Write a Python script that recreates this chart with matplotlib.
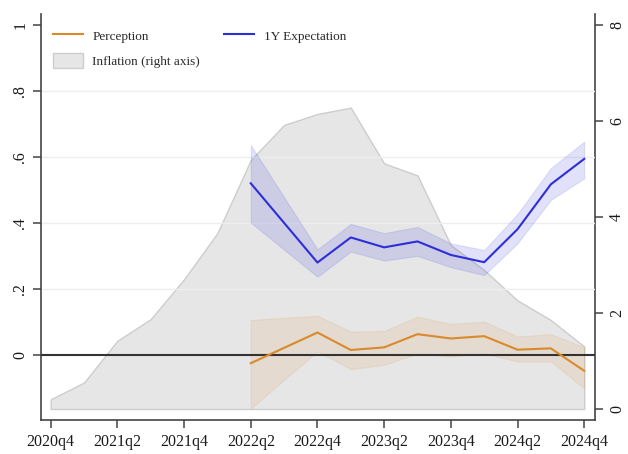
import matplotlib
matplotlib.use("Agg")
import matplotlib.pyplot as plt
from matplotlib.patches import Patch
from matplotlib.lines import Line2D
import numpy as np

plt.rcParams['font.family'] = ['Liberation Serif', 'DejaVu Serif']

# ---- data ----
quarters = ["2020q4", "2021q1", "2021q2", "2021q3", "2021q4", "2022q1", "2022q2",
            "2022q3", "2022q4", "2023q1", "2023q2", "2023q3", "2023q4", "2024q1",
            "2024q2", "2024q3", "2024q4"]
inflation = [0.20, 0.55, 1.42, 1.87, 2.70, 3.66, 5.18, 5.91, 6.14, 6.27, 5.11,
             4.86, 3.41, 2.89, 2.26, 1.85, 1.30]

survey_quarters = ["2022q2", "2022q4", "2023q1", "2023q2", "2023q3", "2023q4",
                   "2024q1", "2024q2", "2024q3", "2024q4"]
perception = [-0.025, 0.068, 0.015, 0.023, 0.063, 0.050, 0.057, 0.016, 0.020, -0.048]
perception_hi = [0.106, 0.119, 0.071, 0.073, 0.116, 0.094, 0.101, 0.056, 0.063, 0.023]
perception_lo = [-0.162, 0.011, -0.043, -0.030, 0.004, -0.005, 0.005, -0.020, -0.020, -0.101]

expectation = [0.520, 0.280, 0.356, 0.326, 0.344, 0.303, 0.281, 0.381, 0.517, 0.594]
expectation_hi = [0.636, 0.320, 0.397, 0.369, 0.388, 0.338, 0.318, 0.427, 0.566, 0.646]
expectation_lo = [0.401, 0.237, 0.313, 0.286, 0.300, 0.266, 0.242, 0.338, 0.470, 0.535]

tick_quarters = ["2020q4", "2021q2", "2021q4", "2022q2", "2022q4", "2023q2",
                 "2023q4", "2024q2", "2024q4"]
left_ticks = [0, 0.2, 0.4, 0.6, 0.8, 1.0]
left_labels = ["0", ".2", ".4", ".6", ".8", "1"]
right_ticks = [0, 2, 4, 6, 8]

# ---- styles ----
ORANGE = "#D98A2B"
BLUE = "#2E2ED8"
GRAY_FILL = "#E6E6E6"
GRAY_EDGE = "#CDCDCD"
AXIS_COL = "#444444"
TEXT_COL = "#1A1A1A"

qpos = {q: i for i, q in enumerate(quarters)}
x_all = np.array([qpos[q] for q in quarters])
x_s = np.array([qpos[q] for q in survey_quarters])

fig = plt.figure(figsize=(6.28, 4.54), dpi=100)
fig.patch.set_facecolor("white")
axr = fig.add_axes([0.0648, 0.0749, 0.8830, 0.8943])  # inflation axis (right)
axl = axr.twinx()                                        # survey axis (left)

# right-axis inflation area
axr.fill_between(x_all, 0, inflation, facecolor=GRAY_FILL, edgecolor=GRAY_EDGE,
                 linewidth=1.0, zorder=1)
axr.set_ylim(-0.229, 8.22)
axr.set_xlim(-0.3, 16.33)

# put left axis values on top
axl.set_zorder(axr.get_zorder() + 1)
axl.patch.set_visible(False)
axl.set_ylim(-0.197, 1.033)

# gridlines
for t in left_ticks[1:-1]:
    axl.axhline(t, color="#EEEEEE", linewidth=1.0, zorder=0.5)

axl.fill_between(x_s, perception_lo, perception_hi, facecolor=ORANGE, alpha=0.12,
                 edgecolor=(0.85, 0.54, 0.17, 0.15), linewidth=0.8, zorder=2)
axl.fill_between(x_s, expectation_lo, expectation_hi, facecolor="#3A3AE0", alpha=0.15,
                 edgecolor=(0.3, 0.3, 0.9, 0.18), linewidth=0.8, zorder=2)
axl.axhline(0, color="#333333", linewidth=1.5, zorder=3)
axl.plot(x_s, perception, color=ORANGE, linewidth=1.5, zorder=4)
axl.plot(x_s, expectation, color=BLUE, linewidth=1.5, zorder=4)

# axes swap: survey values on the left, inflation on the right
axl.yaxis.tick_left()
axl.yaxis.set_label_position("left")
axr.yaxis.tick_right()
axr.yaxis.set_label_position("right")

axl.set_yticks(left_ticks)
axl.set_yticklabels(left_labels)
axr.set_yticks(right_ticks)
axr.set_yticklabels([str(v) for v in right_ticks])

axr.set_xticks([qpos[q] for q in tick_quarters])
axr.set_xticklabels(tick_quarters)

for a in (axl, axr):
    a.spines["top"].set_visible(False)
    for s in ("left", "right", "bottom"):
        a.spines[s].set_color(AXIS_COL)
        a.spines[s].set_linewidth(1.2)
axl.spines["bottom"].set_visible(False)
axl.spines["right"].set_visible(False)
axr.spines["left"].set_visible(False)

axl.tick_params(axis="y", direction="out", length=6, width=1.1, color=AXIS_COL,
                labelsize=11.5, labelrotation=90, pad=3, labelcolor=TEXT_COL)
axr.tick_params(axis="y", direction="out", length=6, width=1.1, color=AXIS_COL,
                labelsize=11.5, labelrotation=90, pad=4, labelcolor=TEXT_COL)
axr.tick_params(axis="x", direction="out", length=6, width=1.1, color=AXIS_COL,
                labelsize=11.5, pad=4, labelcolor=TEXT_COL)
for lbl in axl.get_yticklabels():
    lbl.set_va("center")
for lbl in axr.get_yticklabels():
    lbl.set_va("center")

handles = [Line2D([], [], color=ORANGE, linewidth=1.5),
           Patch(facecolor=GRAY_FILL, edgecolor=GRAY_EDGE, linewidth=1.0),
           Line2D([], [], color=BLUE, linewidth=1.5)]
labels = ["Perception", "Inflation (right axis)", "1Y Expectation"]
leg = axl.legend(handles, labels, ncol=2, loc="upper left",
                 bbox_to_anchor=(0.022, 0.965), borderaxespad=0, borderpad=0,
                 frameon=False, fontsize=9.5, handlelength=2.3, handleheight=1.3,
                 handletextpad=0.7, columnspacing=1.8, labelspacing=0.8)
for t in leg.get_texts():
    t.set_color("#2A2A2A")

fig.savefig("out.png", dpi=100, facecolor="white")
